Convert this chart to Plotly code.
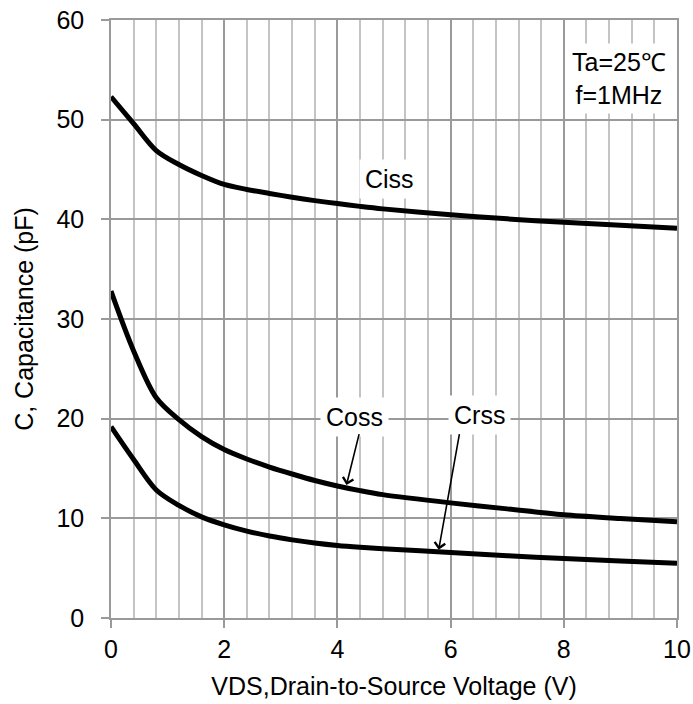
import plotly.graph_objects as go

vds = [0, 0.4, 0.8, 1.2, 1.6, 2, 2.4, 2.8, 3.2, 3.6, 4, 4.4, 4.8, 6, 7, 8, 9, 10]
ciss = [52.3, 49.6, 46.9, 45.5, 44.4, 43.5, 43.0, 42.6, 42.22, 41.88, 41.58, 41.3, 41.05, 40.45, 40.05, 39.7, 39.4, 39.1]
coss = [32.8, 26.8, 22.1, 19.9, 18.2, 16.9, 15.95, 15.15, 14.45, 13.8, 13.25, 12.78, 12.38, 11.55, 10.95, 10.35, 9.98, 9.65]
crss = [19.2, 15.9, 12.85, 11.3, 10.15, 9.35, 8.72, 8.22, 7.84, 7.53, 7.28, 7.1, 6.95, 6.58, 6.25, 5.97, 5.72, 5.5]

x_ticks = [0, 2, 4, 6, 8, 10]
y_ticks = [0, 10, 20, 30, 40, 50, 60]

FONT = "Liberation Sans, Arial, sans-serif"
FS = 25

fig = go.Figure()
for ys in (ciss, coss, crss):
    fig.add_trace(go.Scatter(x=vds, y=ys, mode="lines",
                             line=dict(color="black", width=5, shape="spline", smoothing=0.9),
                             showlegend=False, hoverinfo="skip"))

labels = [("Ciss", 4.92, 44.0), ("Coss", 4.30, 20.2), ("Crss", 6.51, 20.4)]
annotations = []
for t, x, y in labels:
    annotations.append(dict(x=x, y=y, xref="x", yref="y", text=t, showarrow=False,
                            font=dict(family=FONT, size=FS, color="black"),
                            bgcolor="white", borderpad=5))
arrows = [((4.39, 18.6), (4.16, 13.35)), ((6.16, 18.6), (5.79, 6.85))]
for (ax, ay), (x, y) in arrows:
    annotations.append(dict(x=x, y=y, ax=ax, ay=ay, xref="x", yref="y", axref="x", ayref="y",
                            text="", showarrow=True, arrowhead=4, arrowsize=1.3,
                            arrowwidth=1.6, arrowcolor="black"))
annotations.append(dict(x=8.97, y=54.1, xref="x", yref="y",
                        text="Ta=25℃<br>f=1MHz", showarrow=False, align="center",
                        font=dict(family=FONT, size=FS, color="black"),
                        bgcolor="white", borderpad=4))

fig.update_layout(
    width=693, height=704,
    margin=dict(l=111, r=16, t=20, b=86),
    paper_bgcolor="white", plot_bgcolor="white",
    font=dict(family=FONT, color="black"),
    annotations=annotations,
    xaxis=dict(range=[0, 10], tickvals=x_ticks, ticktext=[str(v) for v in x_ticks],
               automargin=False,
               showgrid=True, gridcolor="#9a9a9a", gridwidth=1.5,
               minor=dict(dtick=0.4, tick0=0, showgrid=True, gridcolor="#c4c4c4", gridwidth=1.5),
               showline=True, linecolor="#9a9a9a", linewidth=1.5, mirror=True,
               ticks="outside", ticklen=8, tickcolor="#9a9a9a", tickwidth=1.5,
               tickfont=dict(size=FS, color="black"), zeroline=False,
               title=dict(text="VDS,Drain-to-Source Voltage (V)", font=dict(size=FS), standoff=16)),
    yaxis=dict(range=[0, 60], tickvals=y_ticks, ticktext=[str(v) for v in y_ticks],
               automargin=False,
               showgrid=True, gridcolor="#9a9a9a", gridwidth=1.5,
               showline=True, linecolor="#9a9a9a", linewidth=1.5, mirror=True,
               ticks="outside", ticklen=8, tickcolor="#9a9a9a", tickwidth=1.5,
               tickfont=dict(size=FS, color="black"), zeroline=False,
               ticklabelstandoff=12,
               title=dict(text="C, Capacitance (pF)", font=dict(size=FS), standoff=16)),
)
fig.write_html("out.html")
